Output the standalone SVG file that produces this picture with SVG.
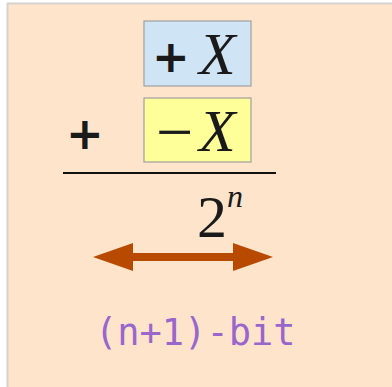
<svg xmlns="http://www.w3.org/2000/svg" width="392" height="387" viewBox="0 0 392 387">
<style>
.bg{fill:#ffe4cc;stroke:#d6d2ce;stroke-width:2}
.box{stroke:#a0a0a0;stroke-width:1.2}
.plus{font-family:"DejaVu Sans",sans-serif;font-weight:bold;font-size:45px;fill:#1a1a1a}
.ix{font-family:"Liberation Serif",serif;font-style:italic;font-size:60px;fill:#1a1a1a}
.rm{font-family:"Liberation Serif",serif;font-size:60px;fill:#1a1a1a}
.mono{font-family:"DejaVu Sans Mono",monospace;font-size:37px;fill:#9966cc}
</style>
<defs>
<marker id="head" markerUnits="userSpaceOnUse" markerWidth="40" markerHeight="28" viewBox="0 0 40 28" refX="0" refY="14" orient="auto-start-reverse">
<path d="M0,0 L40,14 L0,28 z" fill="#b84a00"/>
</marker>
</defs>
<rect class="bg" x="7.5" y="3.5" width="392" height="392"/>
<g id="plusX">
<rect class="box" x="144" y="21" width="107" height="65" fill="#cfe5f5"/>
<text class="plus" x="152" y="72">+</text>
<text class="ix" x="199" y="74">X</text>
</g>
<g id="minusX">
<text class="plus" x="66" y="149">+</text>
<rect class="box" x="144" y="98" width="107" height="64" fill="#ffff99"/>
<text class="rm" x="156" y="154" style="font-size:66px">−</text>
<text class="ix" x="199" y="151">X</text>
</g>
<g id="result">
<line x1="63" y1="173" x2="276" y2="173" stroke="#111" stroke-width="2"/>
<text class="rm" x="197" y="237">2</text>
<text class="ix" x="227" y="207" style="font-size:32px">n</text>
</g>
<g id="connectors">
<line x1="133" y1="257" x2="233" y2="257" stroke="#b84a00" stroke-width="8" marker-start="url(#head)" marker-end="url(#head)"/>
</g>
<g id="label">
<text class="mono" x="95" y="345">(n+1)-bit</text>
</g>
</svg>
